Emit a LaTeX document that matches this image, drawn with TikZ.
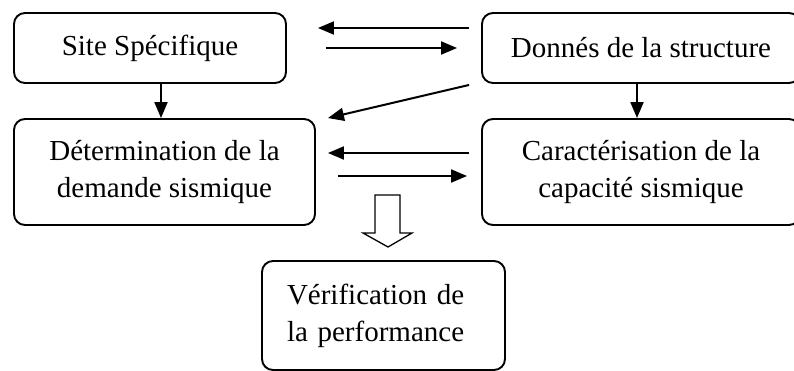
\documentclass[tikz,border=0pt]{standalone}
\usepackage{fontspec}
\setmainfont{Liberation Serif}
\usetikzlibrary{arrows.meta}
\begin{document}
\begin{tikzpicture}[x=1pt,y=-1pt,
  box/.style={draw, line width=1.9pt, rounded corners=11pt, align=center,
    font=\fontsize{29}{37}\selectfont, inner sep=0pt},
  arr/.style={line width=2pt, -{Triangle[length=16pt,width=13pt]}},
  hollow/.style={draw, line width=1.3pt, fill=white}]
\useasboundingbox (0,0) rectangle (794,370);

% process boxes
\node[box, minimum width=272pt, minimum height=70pt] (site) at (150,48) {Site Spécifique};
\node[box, minimum width=318pt, minimum height=70pt] (donnes) at (641,48) {Donnés de la structure};
\node[box, minimum width=301pt, minimum height=106pt] (determ) at (164.5,172) {Détermination de la\\demande sismique};
\node[box, minimum width=318pt, minimum height=106pt] (carac) at (641,172) {Caractérisation de la\\capacité sismique};
\node[box, minimum width=243pt, minimum height=109pt, align=left, text width=193pt, inner xsep=25pt] (verif) at (383.5,315.5) {Vérification de\\la performance};

% exchanges between the upper boxes
\draw[arr] ([xshift=-12pt,yshift=20pt]donnes.west) -- ([xshift=31pt,yshift=20pt]site.east);
\draw[arr] ([xshift=39pt]site.east) -- ([xshift=-24pt]donnes.west);
\draw[arr] ([xshift=-12pt,yshift=-1pt]donnes.south west) -- ([xshift=12pt]determ.north east);

% vertical links
\draw[arr] ([xshift=11pt]site.south) -- ([xshift=11pt]site.south |- determ.north);
\draw[arr] ([xshift=-4pt]donnes.south) -- ([xshift=-4pt]donnes.south |- carac.north);

% exchanges between the middle boxes
\draw[arr] ([xshift=-12pt,yshift=19pt]carac.west) -- ([xshift=12pt,yshift=19pt]determ.east);
\draw[arr] ([xshift=22pt,yshift=-4pt]determ.east) -- ([xshift=-14pt,yshift=-4pt]carac.west);

% block arrow towards the verification box
\draw[hollow] (375,195) -- (400,195) -- (400,233) -- (412,233) -- (388,247)
  -- (363,233) -- (375,233) -- cycle;
\end{tikzpicture}
\end{document}
